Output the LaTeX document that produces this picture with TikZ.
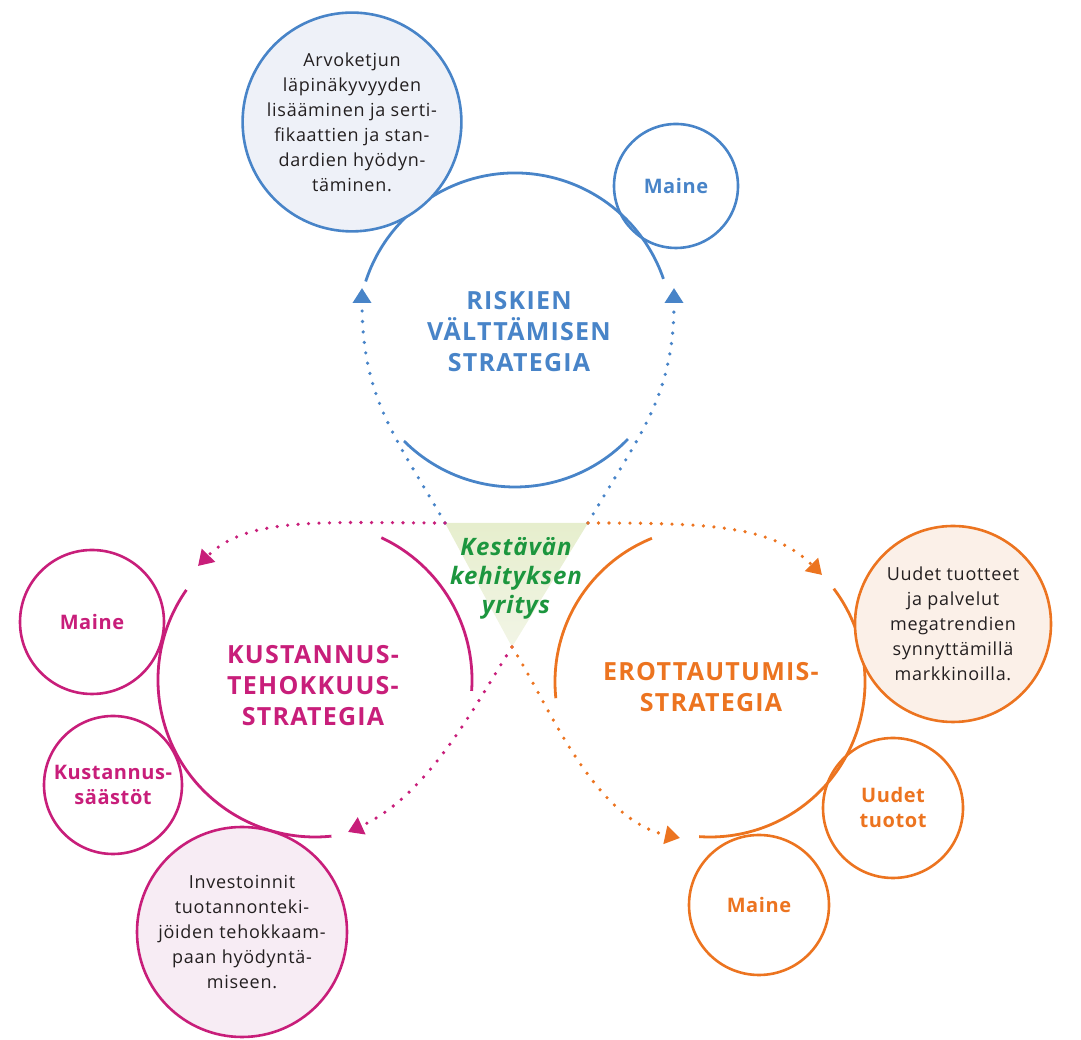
\documentclass[tikz,border=0pt]{standalone}
\usepackage{fontspec}
\setmainfont{Open Sans}
\usetikzlibrary{arrows.meta}
\definecolor{cblue}{RGB}{72,132,200}
\definecolor{cmag}{RGB}{200,30,122}
\definecolor{corange}{RGB}{236,116,32}
\definecolor{cgreen}{RGB}{28,150,62}
\definecolor{ctext}{RGB}{35,31,32}
\definecolor{fblue}{RGB}{238,241,248}
\definecolor{fmag}{RGB}{247,236,244}
\definecolor{forange}{RGB}{251,240,232}
\definecolor{tritop}{RGB}{230,238,205}
\definecolor{tribot}{RGB}{242,245,230}
\begin{document}
\begin{tikzpicture}[x=1pt,y=1pt,
  bigarc/.style={line width=2.8pt},
  bubble/.style={circle, draw, line width=2.6pt, inner sep=0pt, align=center},
  dotarrow/.style={line width=3.6pt, dash pattern=on 0pt off 10.5pt, line cap=round, -{Triangle[length=15pt,width=18pt]}},
  title/.style={font=\fontsize{25}{31}\selectfont\bfseries\addfontfeature{LetterSpace=5}, align=center},
  small/.style={font=\fontsize{18}{25}\selectfont\addfontfeature{LetterSpace=4}, text=ctext},
  lbl/.style={font=\fontsize{20}{25}\selectfont\bfseries\addfontfeature{LetterSpace=3}}
]
\useasboundingbox (0,0) rectangle (1081,1040);

% centre triangle
\coordinate (tl) at (445,517);
\coordinate (tr) at (588,517);
\coordinate (ap) at (512,393);
\shade[top color=tritop, bottom color=tribot] (tl) -- (tr) -- (ap) -- cycle;

% arrow tips
\coordinate (bL) at (362,752);
\coordinate (bR) at (674,752);
\coordinate (mT) at (198,474);
\coordinate (mB) at (348,208);
\coordinate (oT) at (822,465);
\coordinate (oB) at (680,202);

% dotted connectors
\draw[dotarrow, cblue] (tl) .. controls (395,604) and (362,642) .. (bL);
\draw[dotarrow, cblue] (tr) .. controls (638,604) and (674,642) .. (bR);
\draw[dotarrow, cmag] (tl) .. controls (325,517) and (247,524) .. (mT);
\draw[dotarrow, cmag] (ap) .. controls (479,342) and (430,245) .. (mB);
\draw[dotarrow, corange] (tr) .. controls (708,517) and (772,515) .. (oT);
\draw[dotarrow, corange] (ap) .. controls (546,341) and (592,221) .. (oB);

% big circles (arcs)
\coordinate (bc) at (515,710);
\coordinate (mc) at (315,360);
\coordinate (oc) at (710,358);
\draw[bigarc, cblue] (bc) ++(162:157) arc[start angle=162, end angle=19, radius=157];
\draw[bigarc, cblue] (bc) ++(225:157) arc[start angle=225, end angle=316, radius=157];
\draw[bigarc, cmag] (mc) ++(65:157) arc[start angle=65, end angle=-4, radius=157];
\draw[bigarc, cmag] (mc) ++(145:157) arc[start angle=145, end angle=276, radius=157];
\draw[bigarc, corange] (oc) ++(112:155) arc[start angle=112, end angle=186, radius=155];
\draw[bigarc, corange] (oc) ++(37:155) arc[start angle=37, end angle=-94, radius=155];

% titles
\node[title, text=cblue] (tb) at (519,708) {RISKIEN\\VÄLTTÄMISEN\\STRATEGIA};
\node[title, text=cmag] (tm) at (313,354) {KUSTANNUS-\\TEHOKKUUS-\\STRATEGIA};
\node[title, text=corange] (to) at (711,353) {EROTTAUTUMIS-\\STRATEGIA};

% blue bubbles
\node[bubble, draw=cblue, fill=fblue, minimum size=208pt, small] (arvo) at (352,918)
  {Arvoketjun\\läpinäkyvyyden\\lisääminen ja serti-\\fikaattien ja stan-\\dardien hyödyn-\\täminen.};
\node[bubble, draw=cblue, minimum size=124pt, lbl, text=cblue] (bmaine) at (676,854) {Maine};

% magenta bubbles
\node[bubble, draw=cmag, minimum size=144pt, lbl, text=cmag] (mmaine) at (92,418) {Maine};
\node[bubble, draw=cmag, minimum size=138pt, lbl, text=cmag] (mkust) at (113,255) {Kustannus-\\säästöt};
\node[bubble, draw=cmag, fill=fmag, minimum size=210pt, small] (minv) at (242,108)
  {Investoinnit\\tuotannonteki-\\jöiden tehokkaam-\\paan hyödyntä-\\miseen.};

% orange bubbles
\node[bubble, draw=corange, fill=forange, minimum size=196pt, small] (ouud) at (953,416)
  {Uudet tuotteet\\ja palvelut\\megatrendien\\synnyttämillä\\markkinoilla.};
\node[bubble, draw=corange, minimum size=140pt, lbl, text=corange] (otuot) at (893,232) {Uudet\\tuotot};
\node[bubble, draw=corange, minimum size=140pt, lbl, text=corange] (omaine) at (759,135) {Maine};

% centre text
\node[font=\fontsize{24}{29}\selectfont\bfseries\itshape\addfontfeature{LetterSpace=4}, text=cgreen, align=center] (ks) at (516,462)
  {Kestävän\\kehityksen\\yritys};
\end{tikzpicture}
\end{document}
